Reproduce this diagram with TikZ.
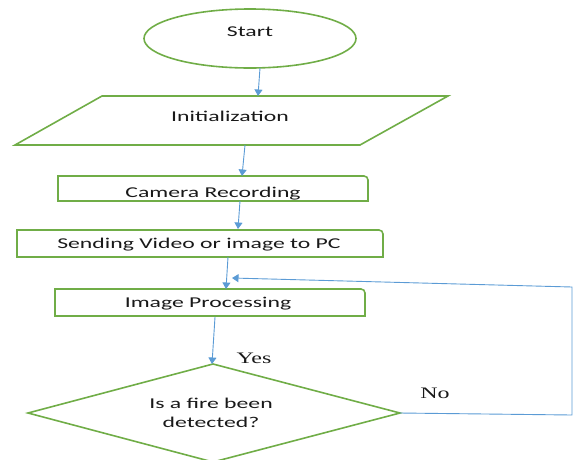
\documentclass[tikz,border=0pt]{standalone}
\usepackage{fontspec}
\usetikzlibrary{arrows.meta,shapes.geometric}
\newfontfamily\boxfont[FakeStretch=1.58]{Carlito}
\newfontfamily\labfont[FakeStretch=1.5]{Liberation Serif}
\definecolor{flowgreen}{HTML}{70AD47}
\definecolor{flowblue}{HTML}{5B9BD5}
\tikzset{
  shapeline/.style={draw=flowgreen, line width=1.6pt, line join=miter},
  boxtext/.style={inner sep=0pt, text=black!90, font=\boxfont\fontsize{15}{19}\selectfont, align=center},
  labtext/.style={inner sep=0pt, text=black!90, font=\labfont\fontsize{16}{19}\selectfont},
  flow/.style={draw=flowblue, line width=0.9pt, -{Triangle[width=8pt,length=6.5pt]}}
}
\begin{document}
\begin{tikzpicture}[x=1pt,y=-1pt]
\useasboundingbox (0,0) rectangle (573,459);
% Start
\draw[shapeline] (250,38.5) ellipse [x radius=106, y radius=29.5];
\node[boxtext] (start) at (250,32) {Start};
% Initialization parallelogram
\draw[shapeline] (102,96) -- (448,96) -- (360,145) -- (15,145) -- cycle;
\node[boxtext] (init) at (230,116) {Initialization};
% Camera recording
\draw[shapeline] (58,201) -- (58,176) [rounded corners=4pt]-- (368,176) [sharp corners]-- (368,201) -- cycle;
\begin{scope}
\clip (58,176) rectangle (368,199.5);
\node[boxtext, anchor=base] (cam) at (213,197.5) {Camera Recording};
\end{scope}
% Sending
\draw[shapeline] (17,257) -- (17,230) [rounded corners=4pt]-- (383,230) [sharp corners]-- (383,257) -- cycle;
\node[boxtext] (send) at (199,245) {Sending Video or image to PC};
% Image processing
\draw[shapeline] (55,316) -- (55,289) [rounded corners=4pt]-- (365,289) [sharp corners]-- (365,316) -- cycle;
\node[boxtext] (proc) at (208,304) {Image Processing};
% Decision diamond
\draw[shapeline] (28,413) -- (213,364) -- (400,413) -- (213,462) -- cycle;
\node[boxtext] (dec) at (211,412.5) {Is a fire been\\detected?};
% Labels
\node[labtext] (yes) at (254,358) {Yes};
\node[labtext] (no) at (435,393) {No};
% Connector points
\coordinate (a1s) at (260,68);  \coordinate (a1e) at (258,96);
\coordinate (a2s) at (245,145); \coordinate (a2e) at (242,176);
\coordinate (a3s) at (240,201); \coordinate (a3e) at (238,229);
\coordinate (a4s) at (228,257); \coordinate (a4e) at (226,289);
\coordinate (a5s) at (215,317); \coordinate (a5e) at (212,364);
\coordinate (nostart) at (400,413);
\coordinate (nocorner1) at (572,415);
\coordinate (nocorner2) at (572,287);
\coordinate (noend) at (232,278);
% Connectors
\draw[flow] (a1s) -- (a1e);
\draw[flow] (a2s) -- (a2e);
\draw[flow] (a3s) -- (a3e);
\draw[flow] (a4s) -- (a4e);
\draw[flow] (a5s) -- (a5e);
\draw[flow] (nostart) -- (nocorner1) -- (nocorner2) -- (noend);
\end{tikzpicture}
\end{document}
